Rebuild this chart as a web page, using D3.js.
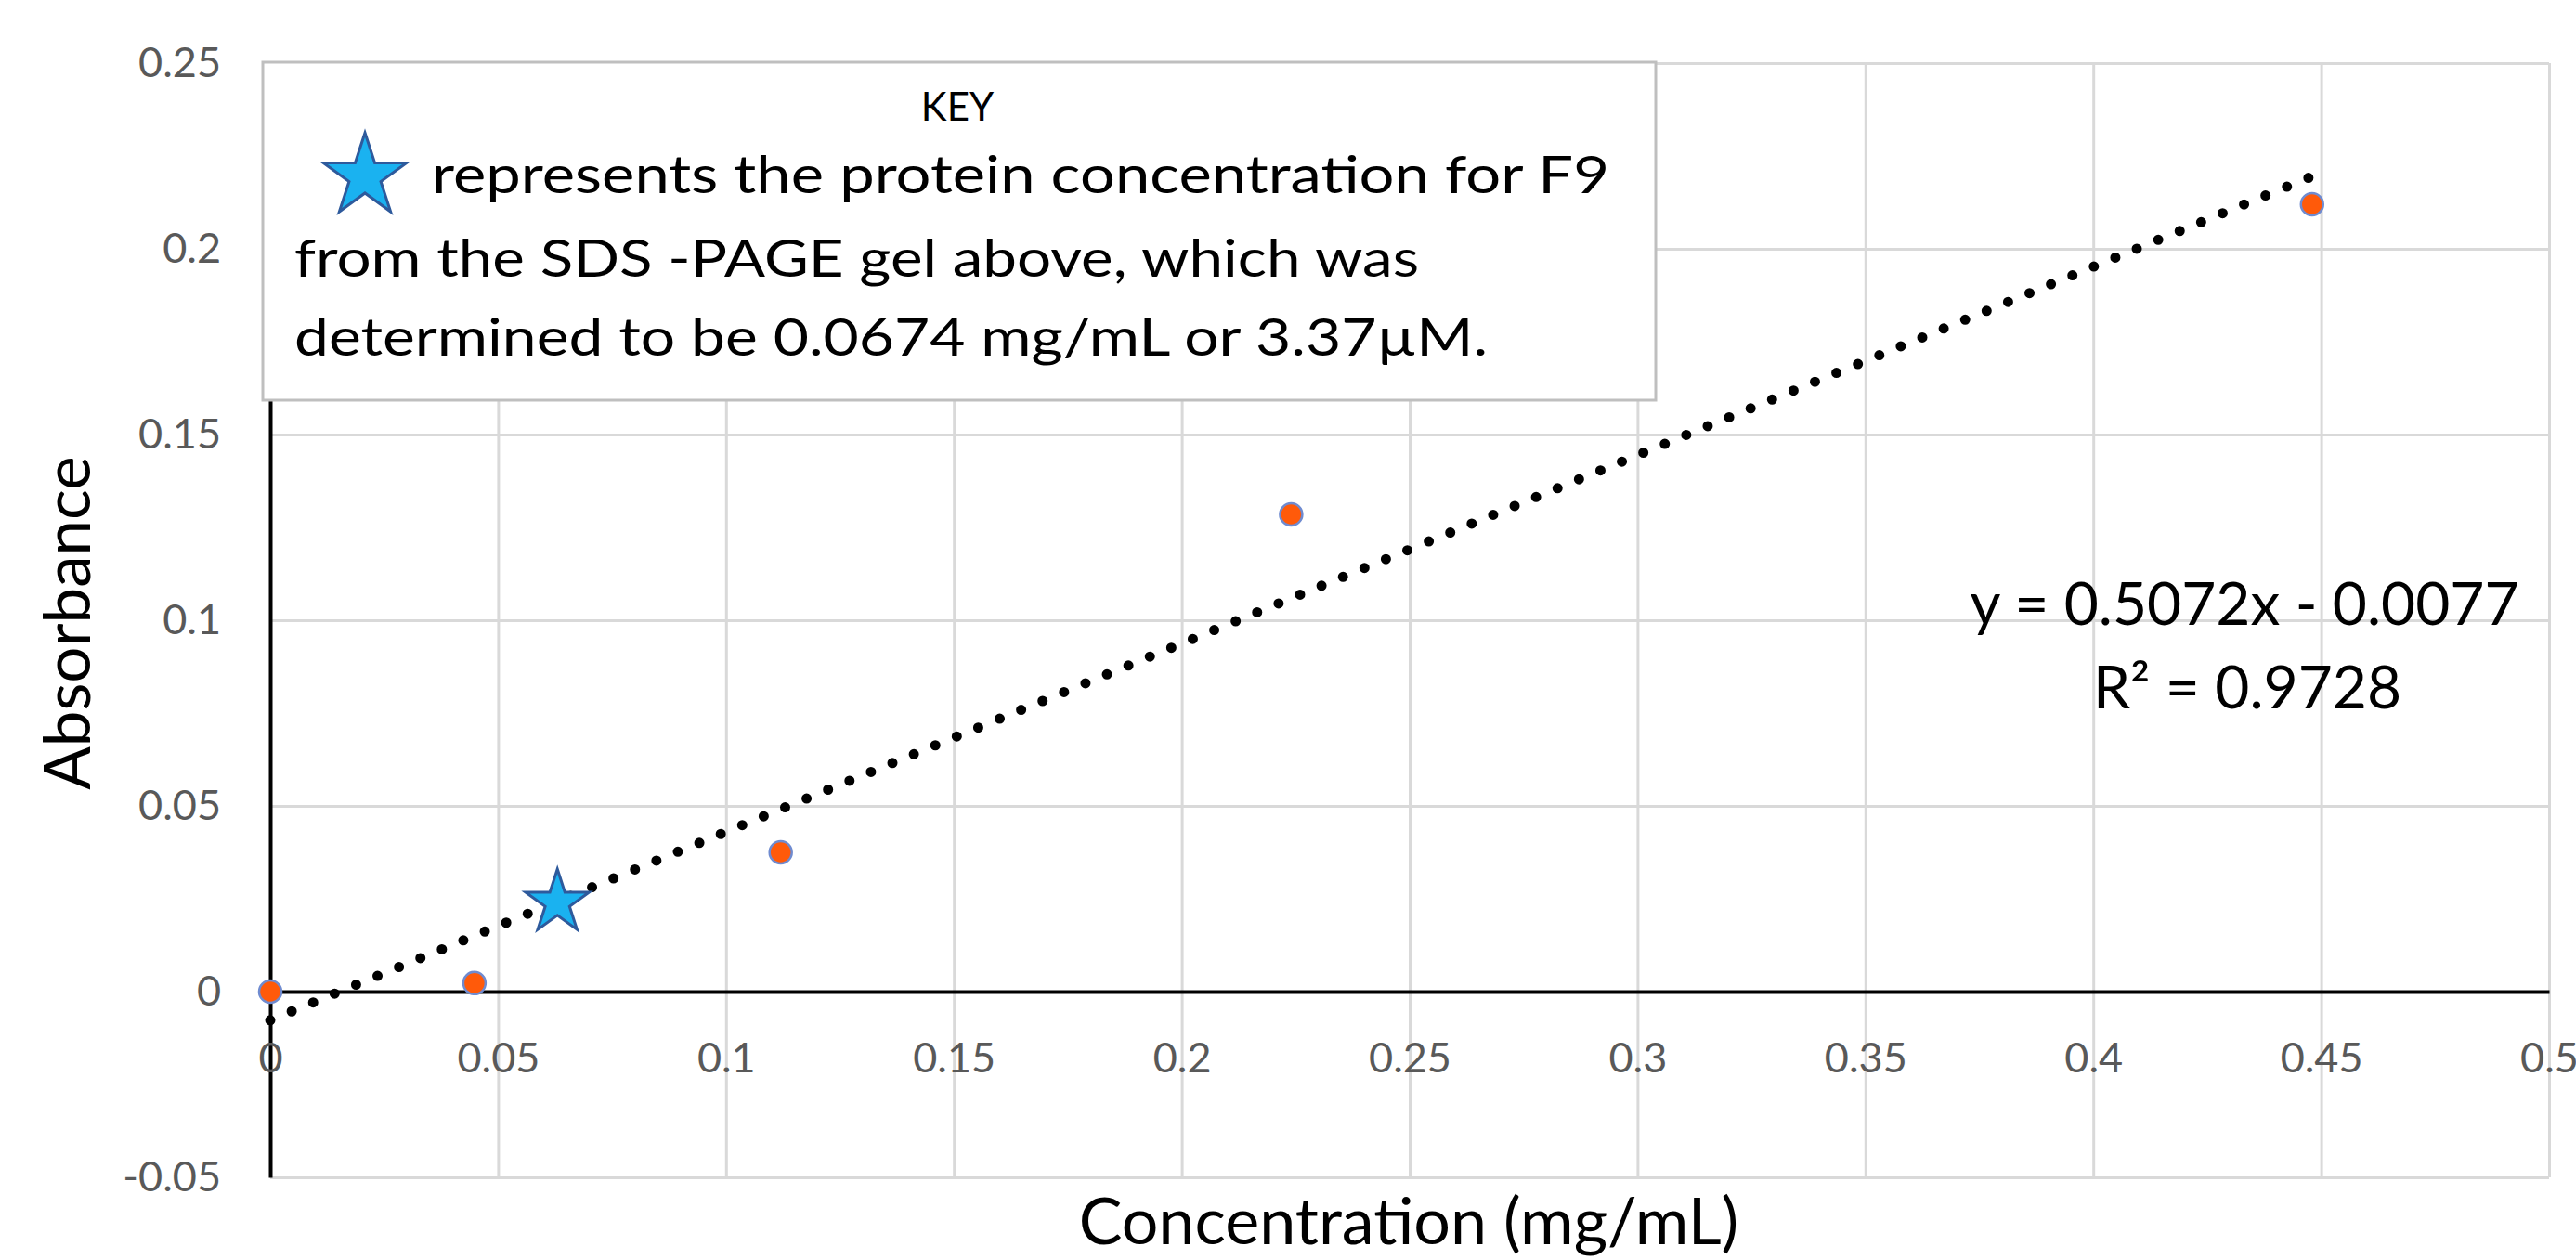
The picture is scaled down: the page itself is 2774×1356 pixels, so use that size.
<!DOCTYPE html>
<html>
<head>
<meta charset="utf-8">
<script src="https://cdn.jsdelivr.net/npm/d3@7"></script>
<style>
  html, body { margin: 0; padding: 0; background: #fff; }
  svg { display: block; }
  text { font-family: Lato, "Open Sans", sans-serif; }
</style>
</head>
<body>
<div id="chart"></div>
<script>
// Standard curve data
var concentration = [0, 0.0448, 0.112, 0.224, 0.448]
var absorbance = [0, 0.0023, 0.0375, 0.1285, 0.212]

// F9 sample, drawn as a star
var sampleConc = [0.063]
var sampleAbs = [0.024]

// Trendline as reported by the chart
var slope = 0.5072
var intercept = -0.0077
var rSquared = 0.9728

var xTicks = [0, 0.05, 0.1, 0.15, 0.2, 0.25, 0.3, 0.35, 0.4, 0.45, 0.5]
var yTicks = [-0.05, 0, 0.05, 0.1, 0.15, 0.2, 0.25]

var keyLines = [
  "represents the protein concentration for F9",
  "from the SDS -PAGE gel above, which was",
  "determined to be 0.0674 mg/mL or 3.37\u00b5M."
]

var width = 2774
var height = 1356
var margin = { top: 68, right: 29, bottom: 88, left: 291 }

var svg = d3.select("#chart")
  .append("svg")
  .attr("width", width)
  .attr("height", height)

var x = d3.scaleLinear()
  .domain([0, 0.5])
  .range([margin.left, width - margin.right])

var y = d3.scaleLinear()
  .domain([-0.05, 0.25])
  .range([height - margin.bottom, margin.top])

var fmt = function(d) { return String(+d.toFixed(2)) }

// Gridlines
svg.append("g")
  .attr("class", "grid")
  .attr("transform", "translate(0," + y(-0.05) + ")")
  .call(d3.axisBottom(x).tickValues(xTicks.slice(1)).tickSize(-(y(-0.05) - y(0.25))).tickFormat(""))

svg.append("g")
  .attr("class", "grid")
  .attr("transform", "translate(" + x(0) + ",0)")
  .call(d3.axisLeft(y).tickValues(yTicks).tickSize(-(x(0.5) - x(0))).tickFormat(""))

svg.selectAll(".grid .domain").remove()
svg.selectAll(".grid line")
  .attr("stroke", "#d9d9d9")
  .attr("stroke-width", 3)

// Axes crossing at zero
var xAxis = svg.append("g")
  .attr("transform", "translate(0," + y(0) + ")")
  .call(d3.axisBottom(x).tickValues(xTicks).tickSize(0).tickPadding(55).tickFormat(fmt))

var yAxis = svg.append("g")
  .attr("transform", "translate(" + x(0) + ",0)")
  .call(d3.axisLeft(y).tickValues(yTicks).tickSize(0).tickPadding(53).tickFormat(fmt))

svg.selectAll(".tick text")
  .attr("fill", "#595959")
  .style("font-size", "45px")
  .style("font-family", "Lato, sans-serif")

xAxis.select(".domain").attr("stroke", "#000").attr("stroke-width", 4)
yAxis.select(".domain").attr("stroke", "#000").attr("stroke-width", 4)
xAxis.raise()

// Dotted linear trendline over the data range
var xExtent = d3.extent(concentration)
var line = d3.line()
  .x(function(d) { return x(d) })
  .y(function(d) { return y(slope * d + intercept) })

svg.append("path")
  .datum(xExtent)
  .attr("d", line)
  .attr("fill", "none")
  .attr("stroke", "#000")
  .attr("stroke-width", 11)
  .attr("stroke-linecap", "round")
  .attr("stroke-dasharray", "0 25")

// Data points
svg.selectAll("circle.pt")
  .data(d3.zip(concentration, absorbance))
  .enter()
  .append("circle")
  .attr("class", "pt")
  .attr("cx", function(d) { return x(d[0]) })
  .attr("cy", function(d) { return y(d[1]) })
  .attr("r", 12)
  .attr("fill", "#ff5a0a")
  .attr("stroke", "#6f8bd0")
  .attr("stroke-width", 2.5)

// Sample star
var star = d3.symbol().type(d3.symbolStar)

svg.selectAll("path.sample")
  .data(d3.zip(sampleConc, sampleAbs))
  .enter()
  .append("path")
  .attr("class", "sample")
  .attr("d", star.size(1455))
  .attr("transform", function(d) { return "translate(" + x(d[0]) + "," + y(d[1]) + ")" })
  .attr("fill", "#1ab2f0")
  .attr("stroke", "#2e5a9c")
  .attr("stroke-width", 3)

// Trendline equation
svg.append("text")
  .attr("x", 2417)
  .attr("y", 673)
  .attr("text-anchor", "middle")
  .style("font-size", "64px")
  .text("y = " + slope + "x - " + Math.abs(intercept))

svg.append("text")
  .attr("x", 2420)
  .attr("y", 763)
  .attr("text-anchor", "middle")
  .style("font-size", "64px")
  .text("R\u00b2 = " + rSquared)

// Axis titles
svg.append("text")
  .attr("transform", "translate(97,671) rotate(-90)")
  .attr("text-anchor", "middle")
  .style("font-size", "69px")
  .text("Absorbance")

svg.append("text")
  .attr("x", 1517)
  .attr("y", 1340)
  .attr("text-anchor", "middle")
  .style("font-size", "70px")
  .text("Concentration (mg/mL)")

// Key box
var key = svg.append("g")

key.append("rect")
  .attr("x", 283)
  .attr("y", 67)
  .attr("width", 1500)
  .attr("height", 364)
  .attr("fill", "#fff")
  .attr("stroke", "#bfbfbf")
  .attr("stroke-width", 3)

key.append("text")
  .attr("x", 1031)
  .attr("y", 130)
  .attr("text-anchor", "middle")
  .style("font-size", "42px")
  .text("KEY")

key.append("path")
  .attr("d", star.size(2480))
  .attr("transform", "translate(393,190)")
  .attr("fill", "#1ab2f0")
  .attr("stroke", "#2e5a9c")
  .attr("stroke-width", 3)

// line start, baseline and stretched width of each key line
var keyX = [465, 317, 317]
var keyY = [208, 298, 383]
var keyW = [1268, 1211, 1285]

key.selectAll("text.line")
  .data(keyLines)
  .enter()
  .append("text")
  .attr("class", "line")
  .attr("x", function(d, i) { return keyX[i] })
  .attr("y", function(d, i) { return keyY[i] })
  .attr("textLength", function(d, i) { return keyW[i] })
  .attr("lengthAdjust", "spacingAndGlyphs")
  .style("font-size", "56px")
  .text(function(d) { return d })
</script>
</body>
</html>
